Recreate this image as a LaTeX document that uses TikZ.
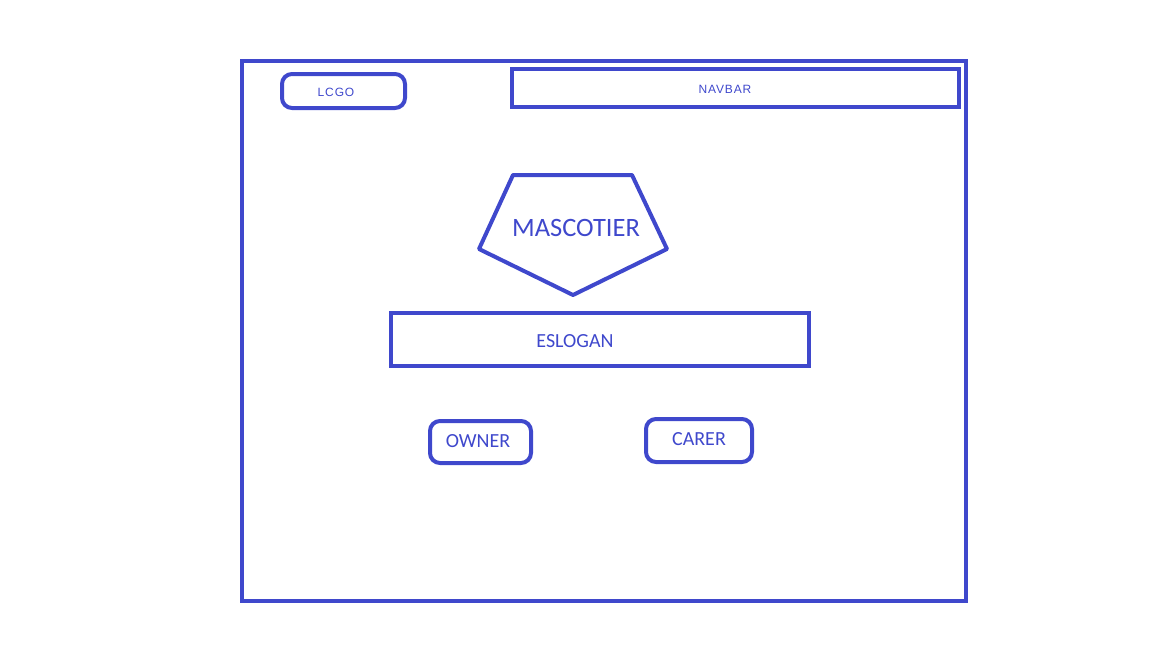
\documentclass[tikz,border=0pt]{standalone}
\usepackage{fontspec}
\setmainfont{Carlito}
\newfontfamily\smallsans[LetterSpace=7]{Liberation Sans}
\definecolor{pblue}{HTML}{3F48CC}
\begin{document}
\begin{tikzpicture}[x=1pt,y=-1pt,
  frame/.style={draw=pblue,line width=4pt},
  roundbox/.style={frame,rounded corners=10pt},
  lbl/.style={text=pblue,inner sep=0pt}]
\useasboundingbox (0,0) rectangle (1152,648);
% outer frame
\draw[frame] (242,61) rectangle (966,601);
% logo
\draw[roundbox] (282,74) rectangle (405,108);
\node[lbl,font=\smallsans\fontsize{12}{14}\selectfont] (logo) at (336,92) {LCGO};
% navbar
\draw[frame] (512,69) rectangle (959,107);
\node[lbl,font=\smallsans\fontsize{12}{14}\selectfont] (navbar) at (725,89) {NAVBAR};
% pentagon
\draw[frame,line join=round] (513,175) -- (632,175) -- (667,249) -- (573,295) -- (479,249) -- cycle;
\node[lbl,font=\fontsize{26.5}{30}\selectfont] (mascot) at (576,228) {MASCOTIER};
% eslogan
\draw[frame] (391,313) rectangle (809,366);
\node[lbl,font=\fontsize{20}{24}\selectfont] (eslogan) at (575,341) {ESLOGAN};
% owner / carer
\draw[roundbox] (430,421) rectangle (531,463);
\node[lbl,font=\fontsize{20}{24}\selectfont] (owner) at (478,441) {OWNER};
\draw[roundbox] (646,419) rectangle (752,462);
\node[lbl,font=\fontsize{20}{24}\selectfont] (carer) at (699,439) {CARER};
\end{tikzpicture}
\end{document}
